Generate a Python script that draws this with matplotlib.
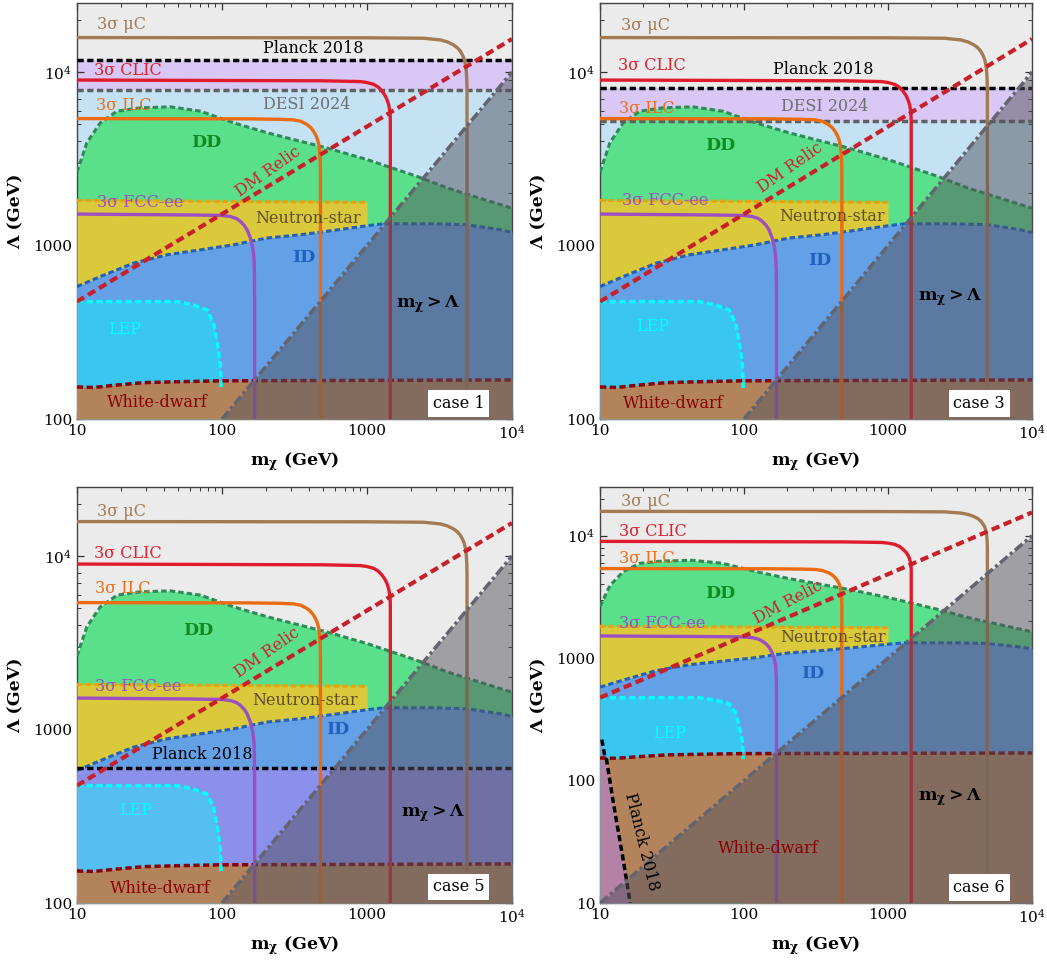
import matplotlib
matplotlib.use('Agg')
import matplotlib.pyplot as plt

plt.rcParams['font.family'] = ['DejaVu Serif']
plt.rcParams['mathtext.fontset'] = 'dejavuserif'

# ---- data ----
dd_m = [10, 11.7, 14.5, 18.9, 27.4, 44, 71, 120, 204, 347, 530, 1000, 2210, 3560, 10000]
dd_lam = [2650, 3910, 5100, 5950, 6220, 6300, 5950, 5100, 4470, 3990, 3650, 3130, 2505, 2150, 1640]

ns_m = [10, 1000]
ns_lam = [1820, 1775]

id_m = [10, 14.5, 24.5, 41.7, 70.8, 120, 204, 347, 589, 1000, 1300, 2880, 4900, 8300, 10000]
id_lam = [580, 662, 791, 884, 944, 1009, 1104, 1153, 1222, 1300, 1334, 1334, 1318, 1233, 1189]

lep_m = [10, 49, 63.7, 78.8, 87.6, 93, 97.3, 98.4, 98.6]
lep_lam = [475, 475, 454, 425, 356, 273, 209, 167, 150]

wd_m = [10, 13, 18.9, 28.8, 49, 97, 10000]
wd_lam = [153, 152, 157, 162, 164, 166, 168]

relic_m = [10, 10000]
relic_lam = [475, 15500]

fcc_m = [10, 60, 100, 114, 126, 134, 142, 149, 157, 163, 166, 167.5, 168, 168]
fcc_lam = [1518, 1500, 1490, 1470, 1430, 1377, 1310, 1233, 1104, 966, 860, 700, 500, 1]
ilc_m = [10, 150, 250, 312, 350, 385, 410, 428, 445, 456, 466, 471, 476, 478, 478]
ilc_lam = [5390, 5370, 5340, 5300, 5200, 4990, 4780, 4560, 4300, 4080, 3800, 3490, 3100, 2700, 1]
clic_m = [10, 500, 899, 1000, 1112, 1200, 1268, 1330, 1373, 1410, 1432, 1445, 1449, 1449]
clic_lam = [8990, 8900, 8810, 8700, 8490, 8170, 7770, 7350, 6950, 6500, 6080, 5600, 5210, 1]
muc_m = [10, 1000, 2455, 3207, 3600, 3958, 4200, 4397, 4560, 4688, 4780, 4840, 4880, 4896]
muc_lam = [15800, 15750, 15660, 15310, 14900, 14320, 13800, 13210, 12500, 11840, 11000, 10140, 9000, 7900]

planck6_m = [10.3, 10.8, 11.1, 12.4, 14.5, 16.2]
planck6_lam = [216, 157, 148, 65, 22.4, 10]

cases = ['case 1', 'case 3', 'case 5', 'case 6']
planck_level = [11700, 8050, 600, None]
desi_level = [7900, 5200, None, None]
muc_end = [155, 155, 155, 18]
y_low = [100, 100, 100, 10]

BG = '#ebebeb'
C_PLANCK = '#d9c7f5'
C_DESI = '#c4e2f4'
C_DD = '#5ae08a'
C_NS = '#dac93a'
C_ID = '#63a0e6'
C_LEP = '#39c7f2'
C_WD = '#b3845c'

DASH = (0, (1.8, 1.0))


def draw_panel(ax, k, labels):
    ylo = y_low[k]
    ytop = 2.5e4
    ax.set_xscale('log')
    ax.set_yscale('log')
    ax.set_xlim(10, 1e4)
    ax.set_ylim(ylo, ytop)
    ax.set_facecolor(BG)
    xs = [10, 1e4]

    pl = planck_level[k]
    de = desi_level[k]
    if pl is not None and de is not None:
        ax.fill_between(xs, ylo, pl, color=C_PLANCK, lw=0, zorder=1)
        ax.fill_between(xs, ylo, de, color=C_DESI, lw=0, zorder=1.1)

    ax.fill_between(dd_m, ylo, dd_lam, color=C_DD, lw=0, zorder=2)
    ax.fill_between(ns_m, ylo, ns_lam, color=C_NS, lw=0, zorder=3)
    ax.fill_between(id_m, ylo, id_lam, color=C_ID, lw=0, zorder=4)
    lep_col = C_LEP
    if pl is not None and de is None:
        ax.fill_between(xs, ylo, pl, color='#b482f0', alpha=0.5, lw=0, zorder=4.5)
        lep_col = '#55bff2'
    ax.fill_between(lep_m, ylo, lep_lam, color=lep_col, lw=0, zorder=5)
    ax.fill_between(wd_m, ylo, wd_lam, color=C_WD, lw=0, zorder=6)
    if k == 3:
        ax.fill_betweenx(planck6_lam, 10, planck6_m, color='#b482f0', alpha=0.5, lw=0, zorder=6.5)

    # region boundaries
    ax.plot(dd_m, dd_lam, color='#2e8b57', lw=2.2, ls=DASH, zorder=7)
    ax.plot(ns_m, ns_lam, color='#f0a000', lw=2.2, ls=DASH, zorder=7)
    ax.plot(id_m, id_lam, color='#2060c0', lw=2.2, ls=DASH, zorder=7)
    ax.plot(lep_m, lep_lam, color='#00ffff', lw=2.5, ls=DASH, zorder=7)
    ax.plot(wd_m, wd_lam, color='#8b0000', lw=2.5, ls=DASH, zorder=7)
    if pl is not None:
        ax.plot(xs, [pl, pl], color='black', lw=2.5, ls=DASH, zorder=7.2)
    if de is not None:
        ax.plot(xs, [de, de], color='#606060', lw=2.5, ls=DASH, zorder=7.1)
    if k == 3:
        ax.plot(planck6_m, planck6_lam, color='black', lw=2.5, ls=DASH, zorder=7.2)

    # collider reaches
    ax.plot(fcc_m, fcc_lam, color='#9b4fc4', lw=2.4, zorder=8, solid_joinstyle='round')
    ax.plot(ilc_m, ilc_lam, color='#ec6a10', lw=2.4, zorder=8, solid_joinstyle='round')
    ax.plot(clic_m, clic_lam, color='#e01c2c', lw=2.4, zorder=8, solid_joinstyle='round')
    ax.plot(muc_m + [muc_m[-1]], muc_lam + [muc_end[k]], color='#a47a52', lw=2.4,
            zorder=8, solid_joinstyle='round')

    ax.plot(relic_m, relic_lam, color='#c8202a', lw=3, ls=(0, (2.0, 1.1)), zorder=9)

    # m_chi > Lambda
    ax.fill_between([ylo, 1e4], ylo, [ylo, 1e4], color='#54545e', alpha=0.5, lw=0, zorder=10)
    ax.plot([ylo, 1e4], [ylo, 1e4], color='#646470', lw=2.5,
            ls=(0, (2.9, 0.9, 0.9, 0.9)), zorder=11)

    # labels
    style = {
        'mu': ('3σ μC', '#a47a52', 'left', 'normal', 0),
        'clic': ('3σ CLIC', '#e0202c', 'left', 'normal', 0),
        'ilc': ('3σ ILC', '#ec7018', 'left', 'normal', 0),
        'fcc': ('3σ FCC-ee', '#9b4fc4', 'left', 'normal', 0),
        'planck': ('Planck 2018', 'black', 'center', 'normal', 0),
        'desi': ('DESI 2024', '#6e6e6e', 'center', 'normal', 0),
        'dd': ('DD', '#138a1e', 'center', 'bold', 0),
        'relic': ('DM Relic', '#d0202e', 'center', 'normal', 35),
        'ns': ('Neutron-star', '#5f4d2a', 'center', 'normal', 0),
        'id': ('ID', '#1f5fbf', 'center', 'bold', 0),
        'lep': ('LEP', '#00ffff', 'center', 'normal', 0),
        'wd': ('White-dwarf', '#8b0000', 'center', 'normal', 0),
        'mgl': (r'$\mathbf{m_{\chi} > \Lambda}$', 'black', 'center', 'bold', 0),
        'planck6': ('Planck 2018', 'black', 'center', 'normal', -76),
    }
    for key, (x, y, *rot) in labels.items():
        txt, col, ha, fw, r = style[key]
        if rot:
            r = rot[0]
        fs = 12.5 if fw == 'bold' else 11.5
        ax.text(x, y, txt, color=col, ha=ha, va='center', fontsize=fs,
                fontweight=fw, rotation=r, rotation_mode='anchor', zorder=12)

    cx, cy = case_pos[k]
    ax.text(cx, cy, cases[k], ha='center', va='center', fontsize=11.5, zorder=13,
            bbox=dict(facecolor='white', edgecolor='none', pad=3.5))

    ax.set_xticks([10, 100, 1000, 10000])
    ax.set_xticklabels(['10', '100', '1000', r'$10^4$'])
    if ylo == 10:
        ax.set_yticks([10, 100, 1000, 10000])
        ax.set_yticklabels(['10', '100', '1000', r'$10^4$'])
    else:
        ax.set_yticks([100, 1000, 10000])
        ax.set_yticklabels(['100', '1000', r'$10^4$'])
    ax.set_ylim(ylo, ytop)
    ax.tick_params(which='both', direction='in', top=True, right=True,
                   labelsize=11, color='#333333')
    ax.tick_params(which='major', length=5, width=0.9)
    ax.tick_params(which='minor', length=3, width=0.7)
    for s in ax.spines.values():
        s.set_color('#444444')
        s.set_linewidth(1.0)
    ax.set_xlabel(r'$\mathbf{m_{\chi}}$ (GeV)', fontsize=12.5, fontweight='bold', labelpad=6)
    ax.set_ylabel('Λ (GeV)', fontsize=12.5, fontweight='bold', labelpad=6)


case_pos = [(4290, 123), (4300, 123), (4290, 124), (4300, 13.4)]

labels1 = {
    'mu': (13.7, 18900), 'planck': (428, 13700), 'clic': (13.2, 10200),
    'desi': (385, 6500), 'ilc': (13.5, 6430), 'dd': (77.6, 3910),
    'relic': (209, 2680), 'fcc': (13.7, 1775), 'ns': (395, 1440),
    'id': (366, 857), 'lep': (21.2, 326), 'wd': (35.6, 124), 'mgl': (2630, 458),
}
labels3 = {
    'mu': (13.9, 18500), 'clic': (13.4, 10900), 'planck': (355, 10400),
    'ilc': (13.6, 6140), 'desi': (365, 6310), 'dd': (68, 3780),
    'relic': (208, 2800), 'fcc': (14.3, 1810), 'ns': (406, 1472),
    'id': (337, 818), 'lep': (23, 340), 'wd': (32.4, 123), 'mgl': (2690, 507),
}
labels5 = {
    'mu': (13.7, 18100), 'clic': (13.2, 10400), 'ilc': (13.4, 6490),
    'dd': (69, 3720), 'relic': (204, 2770), 'fcc': (13.4, 1780),
    'ns': (376, 1465), 'id': (627, 1003), 'planck': (72.8, 716),
    'lep': (25.2, 340), 'wd': (37.5, 122), 'mgl': (2830, 331),
}
labels6 = {
    'mu': (14.0, 19000), 'clic': (13.6, 10900), 'ilc': (13.6, 6560),
    'dd': (68, 3390), 'relic': (203, 2840, 28), 'fcc': (13.6, 1923),
    'ns': (417, 1470), 'id': (302, 750), 'lep': (30.6, 241),
    'wd': (147.6, 27.9), 'mgl': (2690, 74), 'planck6': (19.5, 31.6),
}

fig = plt.figure(figsize=(10.47, 9.63), dpi=100)
boxes = [
    [0.0735, 0.5649, 0.4155, 0.4320],
    [0.5731, 0.5649, 0.4126, 0.4320],
    [0.0735, 0.0623, 0.4155, 0.4320],
    [0.5731, 0.0623, 0.4126, 0.4320],
]
for k, lab in enumerate([labels1, labels3, labels5, labels6]):
    ax = fig.add_axes(boxes[k])
    draw_panel(ax, k, lab)

fig.savefig('out.png', dpi=100)
